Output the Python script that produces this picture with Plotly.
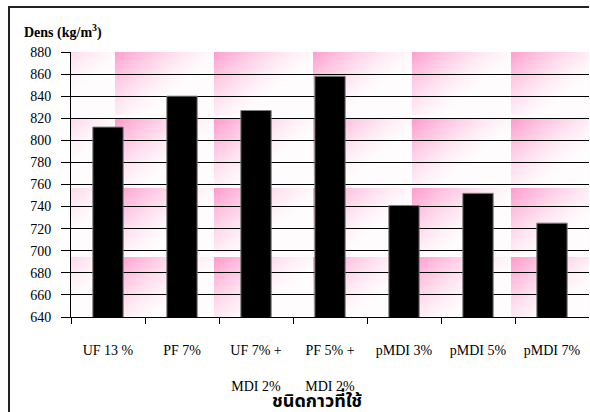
import base64
import struct
import zlib

import numpy as np
import plotly.graph_objects as go

# Particleboard density by adhesive type
categories = ["UF 13 %", "PF 7%", "UF 7% +<br><br>MDI 2%", "PF 5% +<br><br>MDI 2%",
              "pMDI 3%", "pMDI 5%", "pMDI 7%"]
density = [812, 840, 827, 858, 741, 752, 725]
y_ticks = list(range(640, 881, 20))

W, H = 589, 412
M_L, M_R, M_T, M_B = 71, 0, 52, 95
PW, PH = W - M_L - M_R, H - M_T - M_B


def png_data_uri(rgb):
    """Encode an HxWx3 uint8 array as a PNG data URI."""
    h, w, _ = rgb.shape
    raw = b"".join(b"\x00" + rgb[i].tobytes() for i in range(h))

    def chunk(tag, data):
        body = tag + data
        return struct.pack(">I", len(data)) + body + struct.pack(">I", zlib.crc32(body) & 0xFFFFFFFF)

    png = (b"\x89PNG\r\n\x1a\n"
           + chunk(b"IHDR", struct.pack(">IIBBBBB", w, h, 8, 2, 0, 0, 0))
           + chunk(b"IDAT", zlib.compress(raw, 9))
           + chunk(b"IEND", b""))
    return "data:image/png;base64," + base64.b64encode(png).decode()


def pink_tiles(pw, ph):
    """Tiled pink-to-white diagonal gradient for the plot background."""
    tile_w, tile_h = 99.0, 69.3
    ox, oy = 16.0 - M_L, 49.0 - M_T
    xs = np.arange(pw) + 0.5
    ys = np.arange(ph) + 0.5
    X, Y = np.meshgrid(xs, ys)
    u = np.mod(X - ox, tile_w) / tile_w
    vpix = np.mod(Y - oy, tile_h)
    v = vpix / tile_h
    s = 0.85 * u + 0.75 * v
    k = np.clip(1.0 - s, 0.0, 1.0) ** 1.5
    k[vpix > tile_h - 3.5] = 0.0
    pink = np.array([255, 153, 204], dtype=float)
    white = np.array([255, 252, 253], dtype=float)
    img = white[None, None, :] - (white - pink)[None, None, :] * k[..., None]
    return np.clip(img + 0.5, 0, 255).astype(np.uint8)


def chart_backdrop():
    """Whole-page backdrop: textured plot area plus the chart frame's top and left edges."""
    img = np.full((H, W, 3), 255, dtype=np.uint8)
    img[M_T:M_T + PH, M_L:M_L + PW] = pink_tiles(PW, PH)
    img[6:8, 8:] = 34
    img[6:, 8:10] = 34
    return img


fig = go.Figure()
fig.add_trace(go.Bar(
    x=categories,
    y=density,
    marker=dict(color="black", line=dict(color="#7f7f7f", width=1)),
    showlegend=False,
))

fig.add_layout_image(
    source=png_data_uri(chart_backdrop()),
    xref="paper", yref="paper",
    x=-M_L / PW, y=1 + M_T / PH, sizex=W / PW, sizey=H / PH,
    xanchor="left", yanchor="top", sizing="stretch", layer="below",
)

tick_font = dict(family="Liberation Serif, Times New Roman, serif", size=14, color="black")


def px_x(px):
    return (px - M_L) / PW


def px_y(py):
    return (H - M_B - py) / PH


fig.add_annotation(text="<b>Dens (kg/m<sup>3</sup>)</b>", xref="paper", yref="paper",
                   x=px_x(22), y=px_y(31), xanchor="left", yanchor="middle",
                   showarrow=False, font=tick_font)
fig.add_annotation(text="<b>ชนิดกาวที่ใช้</b>", xref="paper", yref="paper",
                   x=px_x(316.7), y=px_y(386), xanchor="center", yanchor="top",
                   showarrow=False,
                   font=dict(family="Noto Sans Thai, Tahoma, Liberation Serif, serif",
                             size=18, color="black"))

fig.update_layout(
    width=W, height=H,
    margin=dict(l=M_L, r=M_R, t=M_T, b=M_B),
    paper_bgcolor="white",
    plot_bgcolor="rgba(0,0,0,0)",
    bargap=0.59,
    font=tick_font,
)
fig.update_xaxes(
    type="category",
    showline=True, linecolor="black", linewidth=1,
    ticks="outside", ticklen=6, tickcolor="black", tickwidth=1,
    tickson="boundaries",
    showgrid=False,
    tickfont=tick_font,
    ticklabelstandoff=20,
)
fig.update_yaxes(
    range=[640, 880],
    tickvals=y_ticks,
    showline=True, linecolor="black", linewidth=1,
    ticks="outside", ticklen=9, tickcolor="black", tickwidth=1,
    showgrid=True, gridcolor="black", gridwidth=1,
    zeroline=False,
    tickfont=tick_font,
    ticklabelstandoff=7,
)

fig.write_html("out.html", config={"displayModeBar": False})
